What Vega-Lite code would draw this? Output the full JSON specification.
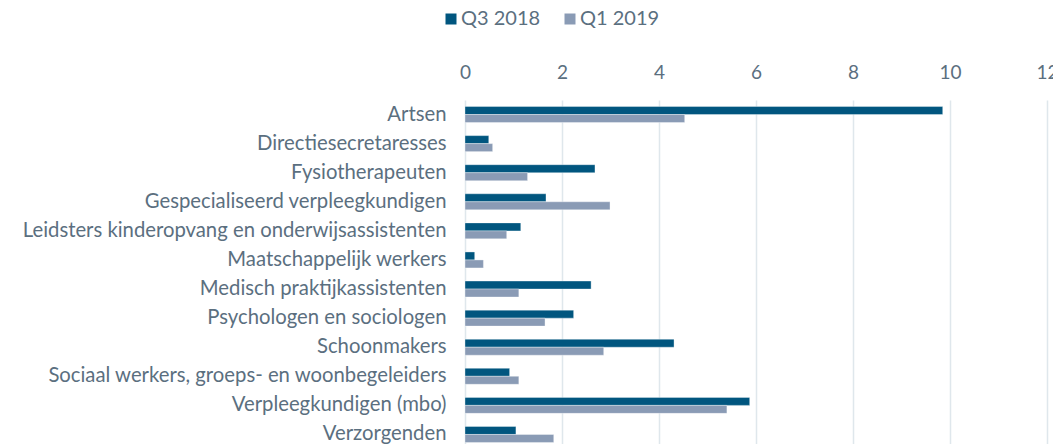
{
  "$schema": "https://vega.github.io/schema/vega-lite/v6.json",
  "autosize": "none",
  "width": 582,
  "height": 349,
  "padding": {"left": 465, "top": 100, "right": 6, "bottom": 0},
  "background": "white",
  "config": {
    "view": {"stroke": null},
    "font": "Lato",
    "axis": {"labelFont": "Lato", "labelColor": "#5b6f7f", "labelFontSize": 20.3},
    "legend": {"labelFont": "Lato", "labelColor": "#5b6f7f", "labelFontSize": 20}
  },
  "data": {
    "values": [
      {"beroep": "Artsen", "periode": "Q3 2018", "waarde": 9.85},
      {"beroep": "Artsen", "periode": "Q1 2019", "waarde": 4.53},
      {"beroep": "Directiesecretaresses", "periode": "Q3 2018", "waarde": 0.49},
      {"beroep": "Directiesecretaresses", "periode": "Q1 2019", "waarde": 0.57},
      {"beroep": "Fysiotherapeuten", "periode": "Q3 2018", "waarde": 2.68},
      {"beroep": "Fysiotherapeuten", "periode": "Q1 2019", "waarde": 1.29},
      {"beroep": "Gespecialiseerd verpleegkundigen", "periode": "Q3 2018", "waarde": 1.67},
      {"beroep": "Gespecialiseerd verpleegkundigen", "periode": "Q1 2019", "waarde": 2.99},
      {"beroep": "Leidsters kinderopvang en onderwijsassistenten", "periode": "Q3 2018", "waarde": 1.15},
      {"beroep": "Leidsters kinderopvang en onderwijsassistenten", "periode": "Q1 2019", "waarde": 0.86},
      {"beroep": "Maatschappelijk werkers", "periode": "Q3 2018", "waarde": 0.2},
      {"beroep": "Maatschappelijk werkers", "periode": "Q1 2019", "waarde": 0.38},
      {"beroep": "Medisch praktijkassistenten", "periode": "Q3 2018", "waarde": 2.6},
      {"beroep": "Medisch praktijkassistenten", "periode": "Q1 2019", "waarde": 1.11},
      {"beroep": "Psychologen en sociologen", "periode": "Q3 2018", "waarde": 2.24},
      {"beroep": "Psychologen en sociologen", "periode": "Q1 2019", "waarde": 1.65},
      {"beroep": "Schoonmakers", "periode": "Q3 2018", "waarde": 4.31},
      {"beroep": "Schoonmakers", "periode": "Q1 2019", "waarde": 2.86},
      {"beroep": "Sociaal werkers, groeps- en woonbegeleiders", "periode": "Q3 2018", "waarde": 0.92},
      {"beroep": "Sociaal werkers, groeps- en woonbegeleiders", "periode": "Q1 2019", "waarde": 1.11},
      {"beroep": "Verpleegkundigen (mbo)", "periode": "Q3 2018", "waarde": 5.87},
      {"beroep": "Verpleegkundigen (mbo)", "periode": "Q1 2019", "waarde": 5.4},
      {"beroep": "Verzorgenden", "periode": "Q3 2018", "waarde": 1.05},
      {"beroep": "Verzorgenden", "periode": "Q1 2019", "waarde": 1.83}
    ]
  },
  "mark": {"type": "bar", "stroke": "#ffffff", "strokeWidth": 0.6, "strokeOpacity": 0.6},
  "encoding": {
    "y": {
      "field": "beroep",
      "type": "nominal",
      "sort": null,
      "title": null,
      "scale": {"paddingInner": 0.45, "paddingOuter": 0.225},
      "axis": {"ticks": false, "domain": false, "labelPadding": 19, "labelLimit": 500}
    },
    "yOffset": {"field": "periode", "type": "nominal", "sort": ["Q3 2018", "Q1 2019"]},
    "x": {
      "field": "waarde",
      "type": "quantitative",
      "title": null,
      "scale": {"domain": [0, 12], "nice": false},
      "axis": {
        "orient": "top",
        "values": [0, 2, 4, 6, 8, 10, 12],
        "ticks": false,
        "domain": false,
        "labelPadding": 18,
        "labelFontSize": 19,
        "gridColor": "#dfe7ec",
        "gridWidth": 1.5,
        "labelFlush": false
      }
    },
    "color": {
      "field": "periode",
      "type": "nominal",
      "sort": ["Q3 2018", "Q1 2019"],
      "scale": {"domain": ["Q3 2018", "Q1 2019"], "range": ["#01567f", "#8a9bb5"]},
      "legend": {
        "title": null,
        "orient": "none",
        "direction": "horizontal",
        "legendX": -24,
        "legendY": -91,
        "symbolType": "square",
        "symbolSize": 121,
        "symbolStrokeWidth": 0,
        "columnPadding": 19,
        "labelOffset": 0
      }
    }
  }
}
